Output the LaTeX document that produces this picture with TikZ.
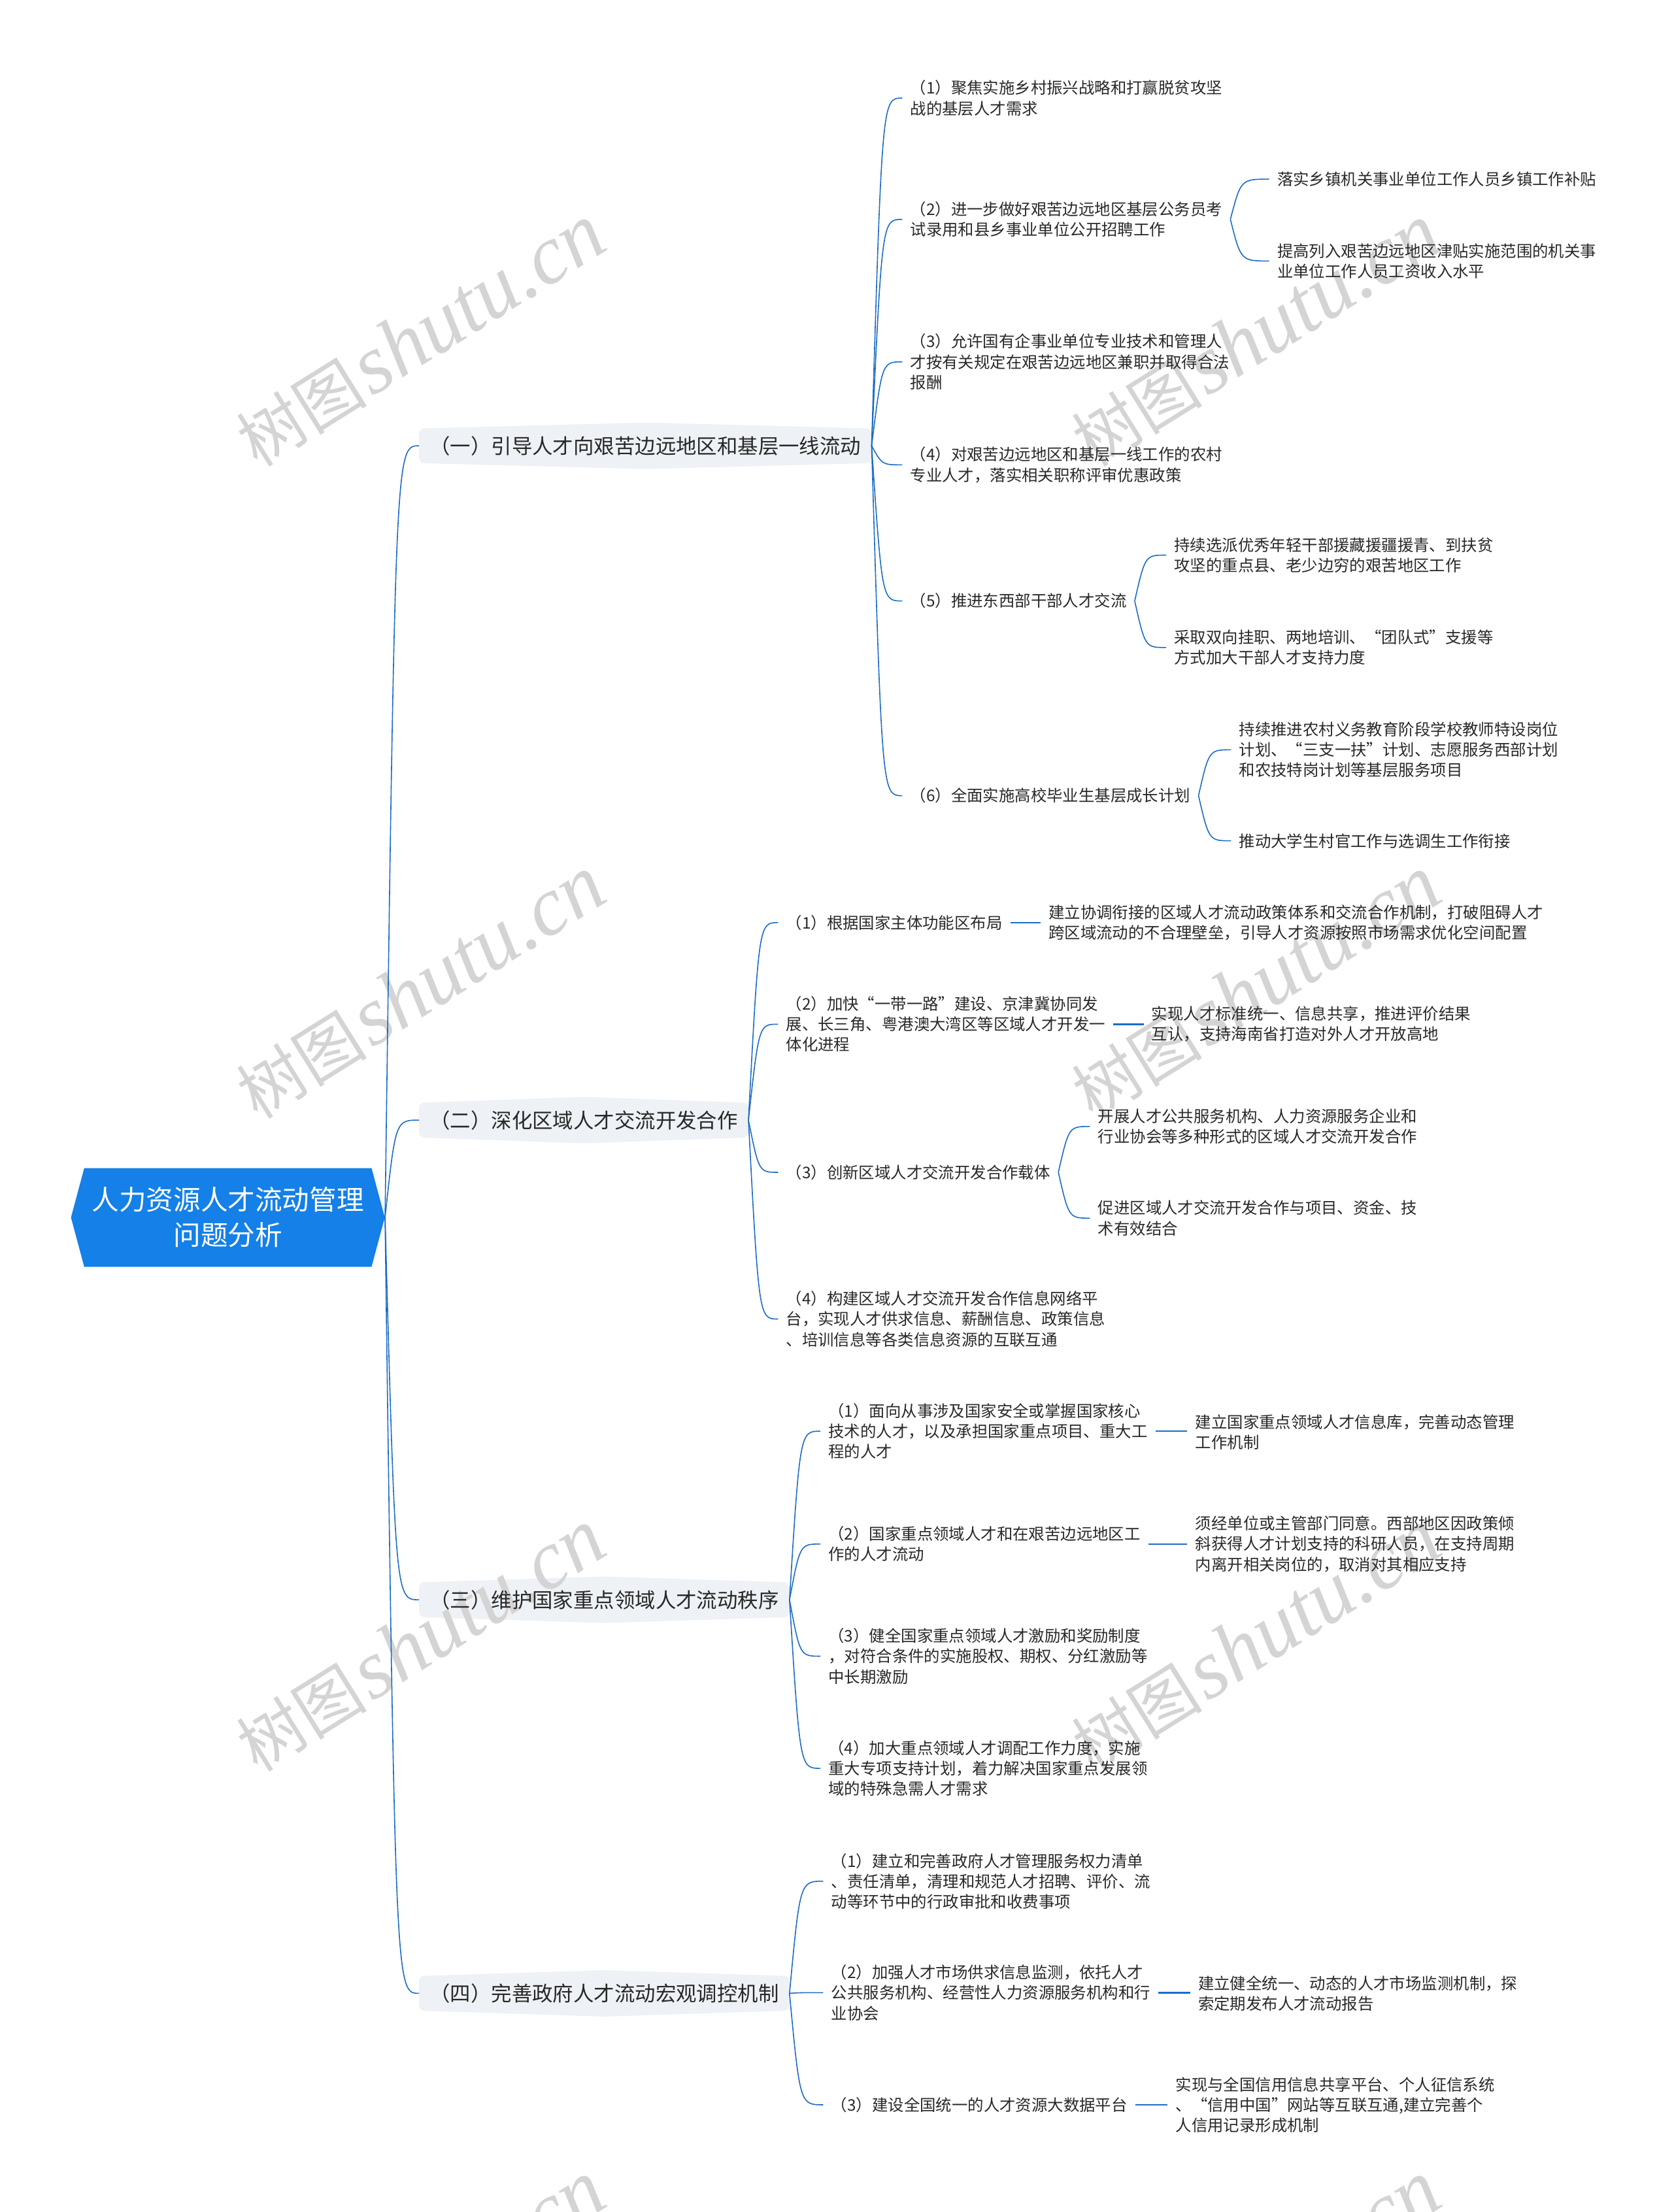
\documentclass[tikz,border=0pt]{standalone}
\usepackage{fontspec}
\newfontfamily\cjk{Noto Sans CJK SC}
\newfontfamily\wmserif{Liberation Serif}
\usetikzlibrary{shapes.symbols}
\definecolor{rootblue}{RGB}{20,128,232}
\definecolor{linkblue}{RGB}{28,108,196}
\definecolor{brfill}{RGB}{238,241,245}
\definecolor{txt}{RGB}{40,40,40}
\definecolor{wmgray}{RGB}{212,212,212}
\pgfdeclarelayer{bg}
\pgfsetlayers{bg,main}
\newcommand\mmlink[2]{\draw[lnk] (#1.east) .. controls ([xshift=8pt]#1.east |- #2.west) .. (#2.west);}
\newcommand\mmstraight[2]{\draw[sline] (#1.east) -- (#1.east -| #2.west);}
\newcommand\mmbox[1]{\fill[brfill, rounded corners=4pt] (#1.north west) -- ([yshift=4.5pt]#1.north) -- (#1.north east) -- (#1.south east) -- ([yshift=-4.5pt]#1.south) -- (#1.south west) -- cycle;}
\tikzset{
  leaf/.style={font=\cjk\fontsize{12.2}{15.6}\selectfont, align=left, anchor=west, inner xsep=6pt, inner ysep=1pt, text=txt},
  br/.style={font=\cjk\fontsize{15.7}{18}\selectfont, anchor=west, inner xsep=8pt, inner ysep=5.6pt, text=txt},
  rootstyle/.style={shape=signal, signal to=east and west, signal pointer angle=150, fill=rootblue, text=white, font=\cjk\fontsize{20.8}{27}\selectfont, align=center, minimum width=240pt, minimum height=75.5pt, inner sep=2pt},
  lnk/.style={draw=linkblue, line width=0.8pt},
  sline/.style={draw=linkblue, line width=1.3pt},
  wm/.style={text=wmgray, rotate=32, inner sep=0pt}
}
\begin{document}
\begin{tikzpicture}[x=1.07925pt,y=-1.07925pt]
\useasboundingbox (0,0) rectangle (1186,1568);
% watermarks
\begin{scope}
\clip (0,0) rectangle (1186,1568);
\foreach \wx/\wy/\wn in {298/238/wa,298/700/wb,298/1163/wc,890/238/wd,890/700/we,890/1163/wf,298/1625/wg,890/1625/wh}{
  \node[wm] (\wn) at (\wx,\wy) {{\cjk\fontsize{50}{50}\selectfont 树图} {\wmserif\itshape\fontsize{64}{64}\selectfont shutu.cn}};
}
\end{scope}

% root
\node[rootstyle] (root) at (161.5,863) {人力资源人才流动管理\\问题分析};

% main branches
\node[br] (b1) at (297,316) {（一）引导人才向艰苦边远地区和基层一线流动};
\node[br] (b2) at (297,794) {（二）深化区域人才交流开发合作};
\node[br] (b3) at (297,1134) {（三）维护国家重点领域人才流动秩序};
\node[br] (b4) at (297,1413) {（四）完善政府人才流动宏观调控机制};

% branch 1
\node[leaf] (c11) at (639.4,69.5) {（1）聚焦实施乡村振兴战略和打赢脱贫攻坚\\战的基层人才需求};
\node[leaf] (c12) at (639.4,155.5) {（2）进一步做好艰苦边远地区基层公务员考\\试录用和县乡事业单位公开招聘工作};
\node[leaf] (g121) at (899.4,127) {落实乡镇机关事业单位工作人员乡镇工作补贴};
\node[leaf] (g122) at (899.4,185) {提高列入艰苦边远地区津贴实施范围的机关事\\业单位工作人员工资收入水平};
\node[leaf] (c13) at (639.4,256.5) {（3）允许国有企事业单位专业技术和管理人\\才按有关规定在艰苦边远地区兼职并取得合法\\报酬};
\node[leaf] (c14) at (639.4,329.5) {（4）对艰苦边远地区和基层一线工作的农村\\专业人才，落实相关职称评审优惠政策};
\node[leaf] (c15) at (639.4,426) {（5）推进东西部干部人才交流};
\node[leaf] (g151) at (826.4,393.5) {持续选派优秀年轻干部援藏援疆援青、到扶贫\\攻坚的重点县、老少边穷的艰苦地区工作};
\node[leaf] (g152) at (826.4,459) {采取双向挂职、两地培训、“团队式”支援等\\方式加大干部人才支持力度};
\node[leaf] (c16) at (639.4,564) {（6）全面实施高校毕业生基层成长计划};
\node[leaf] (g161) at (872.4,531.5) {持续推进农村义务教育阶段学校教师特设岗位\\计划、“三支一扶”计划、志愿服务西部计划\\和农技特岗计划等基层服务项目};
\node[leaf] (g162) at (872.4,596) {推动大学生村官工作与选调生工作衔接};

% branch 2
\node[leaf] (c21) at (551.4,654) {（1）根据国家主体功能区布局};
\node[leaf] (g211) at (737.4,654) {建立协调衔接的区域人才流动政策体系和交流合作机制，打破阻碍人才\\跨区域流动的不合理壁垒，引导人才资源按照市场需求优化空间配置};
\node[leaf] (c22) at (551.4,726) {（2）加快“一带一路”建设、京津冀协同发\\展、长三角、粤港澳大湾区等区域人才开发一\\体化进程};
\node[leaf] (g221) at (810.4,726) {实现人才标准统一、信息共享，推进评价结果\\互认，支持海南省打造对外人才开放高地};
\node[leaf] (c23) at (551.4,831) {（3）创新区域人才交流开发合作载体};
\node[leaf] (g231) at (772.4,798.5) {开展人才公共服务机构、人力资源服务企业和\\行业协会等多种形式的区域人才交流开发合作};
\node[leaf] (g232) at (772.4,863.5) {促进区域人才交流开发合作与项目、资金、技\\术有效结合};
\node[leaf] (c24) at (551.4,935) {（4）构建区域人才交流开发合作信息网络平\\台，实现人才供求信息、薪酬信息、政策信息\\、培训信息等各类信息资源的互联互通};

% branch 3
\node[leaf] (c31) at (581.4,1014.5) {（1）面向从事涉及国家安全或掌握国家核心\\技术的人才，以及承担国家重点项目、重大工\\程的人才};
\node[leaf] (g311) at (841.4,1015) {建立国家重点领域人才信息库，完善动态管理\\工作机制};
\node[leaf] (c32) at (581.4,1094.5) {（2）国家重点领域人才和在艰苦边远地区工\\作的人才流动};
\node[leaf] (g321) at (841.4,1094.5) {须经单位或主管部门同意。西部地区因政策倾\\斜获得人才计划支持的科研人员，在支持周期\\内离开相关岗位的，取消对其相应支持};
\node[leaf] (c33) at (581.4,1174) {（3）健全国家重点领域人才激励和奖励制度\\，对符合条件的实施股权、期权、分红激励等\\中长期激励};
\node[leaf] (c34) at (581.4,1253.5) {（4）加大重点领域人才调配工作力度，实施\\重大专项支持计划，着力解决国家重点发展领\\域的特殊急需人才需求};

% branch 4
\node[leaf] (c41) at (583.4,1333.5) {（1）建立和完善政府人才管理服务权力清单\\、责任清单，清理和规范人才招聘、评价、流\\动等环节中的行政审批和收费事项};
\node[leaf] (c42) at (583.4,1412.5) {（2）加强人才市场供求信息监测，依托人才\\公共服务机构、经营性人力资源服务机构和行\\业协会};
\node[leaf] (g421) at (843.4,1413) {建立健全统一、动态的人才市场监测机制，探\\索定期发布人才流动报告};
\node[leaf] (c43) at (583.4,1492) {（3）建设全国统一的人才资源大数据平台};
\node[leaf] (g431) at (827.4,1492) {实现与全国信用信息共享平台、个人征信系统\\、“信用中国”网站等互联互通,建立完善个\\人信用记录形成机制};

% branch boxes
\begin{pgfonlayer}{bg}
\mmbox{b1}\mmbox{b2}\mmbox{b3}\mmbox{b4}
\end{pgfonlayer}

% connectors
\foreach \b in {b1,b2,b3,b4}{\mmlink{root}{\b}}
\foreach \c in {c11,c12,c13,c14,c15,c16}{\mmlink{b1}{\c}}
\mmlink{c12}{g121}\mmlink{c12}{g122}
\mmlink{c15}{g151}\mmlink{c15}{g152}
\mmlink{c16}{g161}\mmlink{c16}{g162}
\foreach \c in {c21,c22,c23,c24}{\mmlink{b2}{\c}}
\mmstraight{c21}{g211}
\mmstraight{c22}{g221}
\mmlink{c23}{g231}\mmlink{c23}{g232}
\foreach \c in {c31,c32,c33,c34}{\mmlink{b3}{\c}}
\mmstraight{c31}{g311}
\mmstraight{c32}{g321}
\foreach \c in {c41,c42,c43}{\mmlink{b4}{\c}}
\mmstraight{c42}{g421}
\mmstraight{c43}{g431}
\end{tikzpicture}
\end{document}
